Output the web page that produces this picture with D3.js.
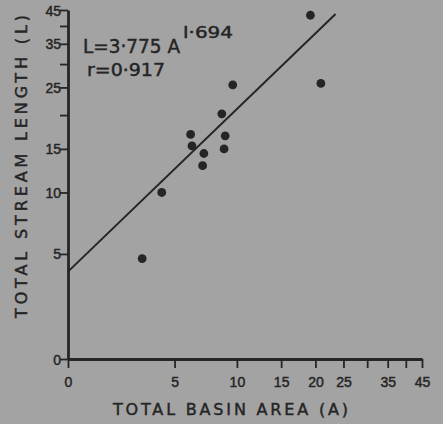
<!DOCTYPE html>
<html>
<head>
<meta charset="utf-8">
<script src="https://cdn.jsdelivr.net/npm/d3@7"></script>
<style>
  body { margin: 0; background: #a3a3a3; }
  svg { display: block; }
  text { stroke: #252525; stroke-width: 0.45px; }
</style>
</head>
<body>
<svg id="chart" width="443" height="424"></svg>
<script>
// basin area (A) and stream length (L) for each basin
const areaA   = [3.1, 4.2, 6.1, 6.2, 7.1, 7.0, 8.6, 8.9, 8.8, 9.6, 19.2, 20.9];
const lengthL = [4.7, 10.0, 17.0, 15.4, 14.4, 12.9, 20.2, 16.8, 15.0, 25.5, 43.3, 25.8];

// fitted line, read at both ends
const fitA = [0, 23.5];
const fitL = [3.9, 43.7];

const xTicks = [0, 5, 10, 15, 20, 25, 30, 35, 40, 45];
const xTickLabels = [0, 5, 10, 15, 20, 25, 35, 45];
const yTicks = [0, 5, 10, 15, 20, 25, 30, 35, 40, 45];
const yTickLabels = [0, 5, 10, 15, 25, 35, 45];

const ink = "#252525";
const svg = d3.select("#chart");

// both axes are log(v + 5)
const x = d3.scaleSymlog().constant(5).domain([0, 45]).range([68, 422]);
const y = d3.scaleSymlog().constant(5).domain([0, 45]).range([359, 10]);

const xAxis = svg.append("g")
    .attr("transform", `translate(0,${y(0)})`)
    .call(d3.axisBottom(x)
        .tickValues(xTicks)
        .tickSize(9)
        .tickSizeOuter(0)
        .tickFormat(d => xTickLabels.includes(d) ? d : ""));

const yAxis = svg.append("g")
    .attr("transform", `translate(${x(0)},0)`)
    .call(d3.axisLeft(y)
        .tickValues(yTicks)
        .tickSize(8)
        .tickSizeOuter(0)
        .tickFormat(d => yTickLabels.includes(d) ? d : ""));

[xAxis, yAxis].forEach(g => {
    g.select(".domain").attr("stroke", ink).attr("stroke-width", 2.8);
    g.selectAll(".tick line").attr("stroke", ink).attr("stroke-width", 1.8);
    g.selectAll(".tick text")
        .attr("fill", ink)
        .style("font-family", "'Liberation Sans', Arial, sans-serif")
        .style("font-size", "14px");
});
xAxis.selectAll(".tick text").attr("dy", "1.15em");
yAxis.selectAll(".tick text").attr("dy", "0.36em").attr("x", -7);

// regression line
const fitData = fitA.map((a, i) => [a, fitL[i]]);
svg.append("path")
    .datum(fitData)
    .attr("d", d3.line().x(d => x(d[0])).y(d => y(d[1])))
    .attr("fill", "none")
    .attr("stroke", ink)
    .attr("stroke-width", 2);

// observations
const pts = areaA.map((a, i) => ({ a: a, l: lengthL[i] }));
svg.append("g")
    .selectAll("circle")
    .data(pts)
    .join("circle")
    .attr("cx", d => x(d.a))
    .attr("cy", d => y(d.l))
    .attr("r", 4.4)
    .attr("fill", ink);

// equation
const eq = svg.append("g")
    .attr("fill", ink)
    .style("font-family", "'DejaVu Sans', sans-serif");

eq.append("text")
    .attr("x", 83)
    .attr("y", 53)
    .style("font-size", "19px")
    .attr("textLength", 97)
    .attr("lengthAdjust", "spacingAndGlyphs")
    .text("L=3·775 A");

eq.append("text")
    .attr("x", 183)
    .attr("y", 38)
    .style("font-size", "15px")
    .attr("textLength", 50)
    .attr("lengthAdjust", "spacingAndGlyphs")
    .text("l·694");

eq.append("text")
    .attr("x", 87)
    .attr("y", 76)
    .style("font-size", "17px")
    .attr("textLength", 78)
    .attr("lengthAdjust", "spacingAndGlyphs")
    .text("r=0·917");

// axis titles
svg.append("text")
    .attr("x", 113)
    .attr("y", 415)
    .attr("fill", ink)
    .style("font-family", "'DejaVu Sans', sans-serif")
    .style("font-size", "16px")
    .attr("textLength", 235)
    .attr("lengthAdjust", "spacing")
    .text("TOTAL BASIN AREA (A)");

svg.append("text")
    .attr("transform", "translate(27,318) rotate(-90)")
    .attr("fill", ink)
    .style("font-family", "'DejaVu Sans', sans-serif")
    .style("font-size", "16px")
    .attr("textLength", 303)
    .attr("lengthAdjust", "spacing")
    .text("TOTAL STREAM  LENGTH (L)");
</script>
</body>
</html>
